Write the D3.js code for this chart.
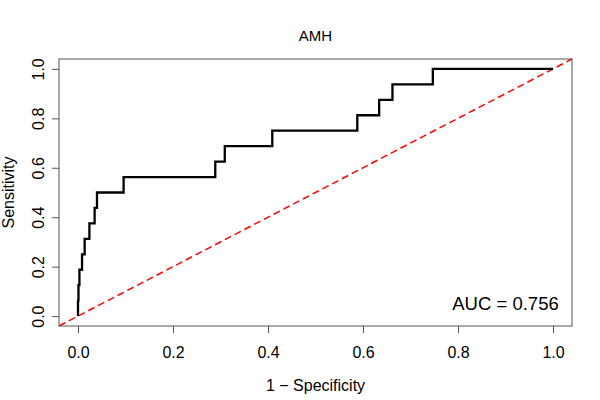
<!DOCTYPE html>
<html>
<head>
<meta charset="utf-8">
<script src="https://cdn.jsdelivr.net/npm/d3@7"></script>
<style>
  body { margin: 0; background: #fff; }
  text { font-family: "Liberation Sans", Arial, sans-serif; fill: #000; }
</style>
</head>
<body>
<svg id="chart"></svg>
<script>
// ROC staircase: vertical step at each fpr rises to the matching tpr
var fpr = [0, 0, 0.001, 0.003, 0.0085, 0.014, 0.024, 0.035, 0.040, 0.096, 0.289, 0.309, 0.409, 0.588, 0.634, 0.662, 0.747, 1.0];
var tpr = [0, 0.0625, 0.125, 0.1875, 0.25, 0.3125, 0.375, 0.4375, 0.5, 0.5625, 0.625, 0.6875, 0.75, 0.8125, 0.875, 0.9375, 1.0, 1.0];
var tickValues = [0, 0.2, 0.4, 0.6, 0.8, 1.0];
var tickLabels = ["0.0", "0.2", "0.4", "0.6", "0.8", "1.0"];
var aucLabel = "AUC = 0.756";

var width = 600, height = 400;
var box = { left: 59, right: 572, top: 59, bottom: 326 };

var svg = d3.select("#chart")
  .attr("width", width)
  .attr("height", height);

// R-style 4% padding around [0, 1]
var xScale = d3.scaleLinear().domain([-0.04, 1.04]).range([box.left, box.right]);
var yScale = d3.scaleLinear().domain([-0.04, 1.04]).range([box.bottom, box.top]);

var points = fpr.map(function(d, i) { return [d, tpr[i]]; });

// Diagonal reference line, clipped to plot area
svg.append("line")
  .attr("x1", xScale(-0.04))
  .attr("y1", yScale(-0.04))
  .attr("x2", xScale(1.04))
  .attr("y2", yScale(1.04))
  .attr("stroke", "#ff0000")
  .attr("stroke-width", 1.5)
  .attr("stroke-dasharray", "7,4");

// ROC curve
var line = d3.line()
  .x(function(d) { return xScale(d[0]); })
  .y(function(d) { return yScale(d[1]); })
  .curve(d3.curveStepAfter);

svg.append("path")
  .datum(points)
  .attr("d", line)
  .attr("fill", "none")
  .attr("stroke", "#000")
  .attr("stroke-width", 2.3);

// Box
svg.append("rect")
  .attr("x", box.left)
  .attr("y", box.top)
  .attr("width", box.right - box.left)
  .attr("height", box.bottom - box.top)
  .attr("fill", "none")
  .attr("stroke", "#555")
  .attr("stroke-width", 1);

// X axis
var xAxis = d3.axisBottom(xScale)
  .tickValues(tickValues)
  .tickFormat(function(d, i) { return tickLabels[i]; })
  .tickSize(7)
  .tickPadding(14)
  .tickSizeOuter(0);

var gx = svg.append("g")
  .attr("transform", "translate(0," + box.bottom + ")")
  .call(xAxis);
gx.select(".domain").remove();
gx.selectAll(".tick line").attr("stroke", "#555");
gx.selectAll(".tick text")
  .style("font-size", "16px")
  .style("font-family", "Liberation Sans, Arial, sans-serif")
  .attr("fill", "#000");

// Y axis, labels parallel to the axis
var yAxis = d3.axisLeft(yScale)
  .tickValues(tickValues)
  .tickFormat(function(d, i) { return tickLabels[i]; })
  .tickSize(7)
  .tickSizeOuter(0);

var gy = svg.append("g")
  .attr("transform", "translate(" + box.left + ",0)")
  .call(yAxis);
gy.select(".domain").remove();
gy.selectAll(".tick line").attr("stroke", "#555");
gy.selectAll(".tick text")
  .attr("transform", "rotate(-90)")
  .attr("text-anchor", "middle")
  .attr("x", 0)
  .attr("y", -15.5)
  .attr("dy", 0)
  .style("font-size", "16px")
  .style("font-family", "Liberation Sans, Arial, sans-serif")
  .attr("fill", "#000");

// Titles
svg.append("text")
  .attr("x", (box.left + box.right) / 2)
  .attr("y", 41)
  .attr("text-anchor", "middle")
  .style("font-size", "15px")
  .text("AMH");

svg.append("text")
  .attr("x", (box.left + box.right) / 2)
  .attr("y", 391)
  .attr("text-anchor", "middle")
  .style("font-size", "16px")
  .text("1 \u2212 Specificity");

svg.append("text")
  .attr("transform", "translate(14," + (box.top + box.bottom) / 2 + ") rotate(-90)")
  .attr("text-anchor", "middle")
  .style("font-size", "16px")
  .text("Sensitivity");

// AUC annotation
svg.append("text")
  .attr("x", xScale(0.9))
  .attr("y", yScale(0.024))
  .attr("text-anchor", "middle")
  .style("font-size", "18.5px")
  .text(aucLabel);
</script>
</body>
</html>
